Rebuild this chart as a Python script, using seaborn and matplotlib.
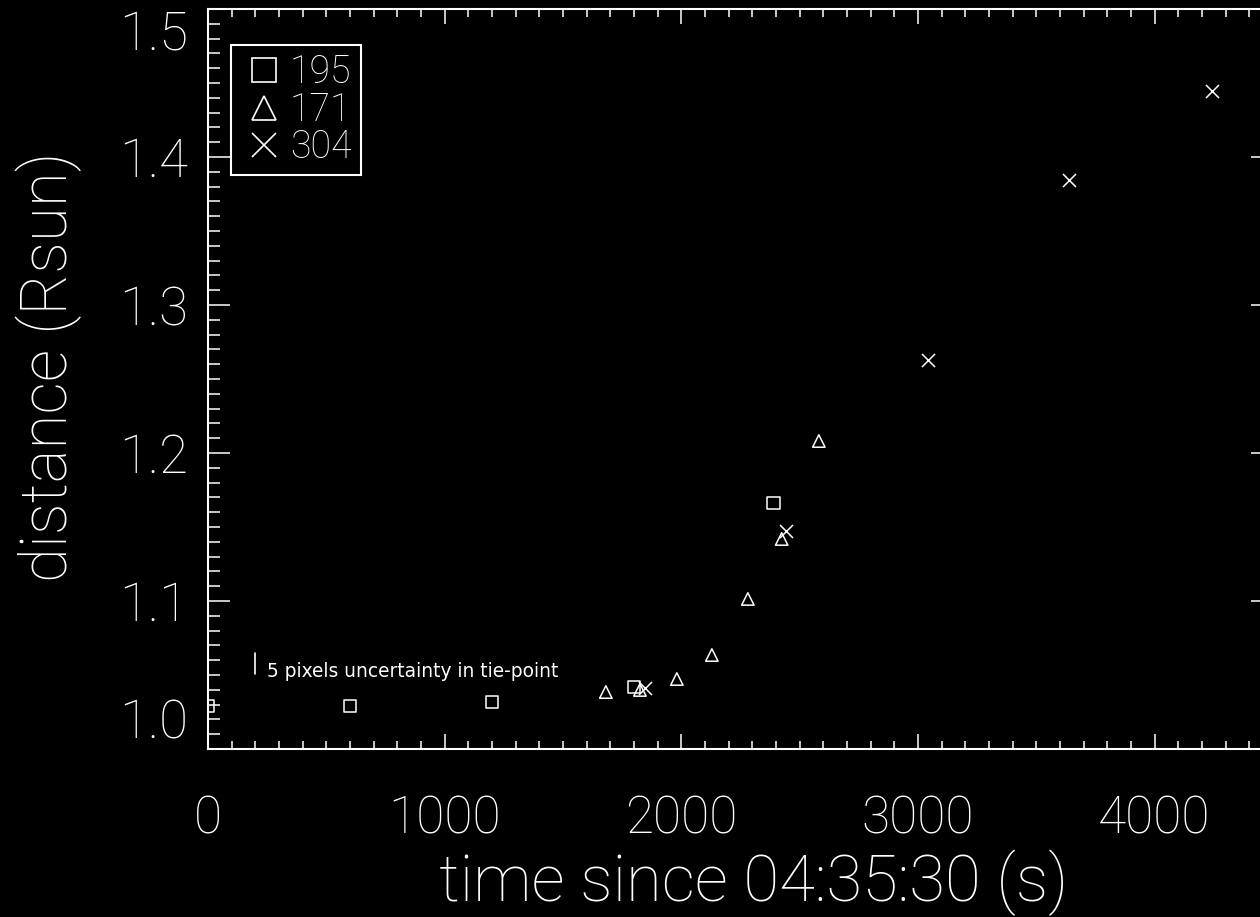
import matplotlib
matplotlib.use('Agg')
import seaborn           as sns
import matplotlib.pyplot as plt
from matplotlib.lines  import Line2D
from matplotlib.ticker import MultipleLocator, FixedLocator


# Distance of the feature (Rsun) against time since 04:35:30 (s), one list per channel
t195 = [0, 600, 1200, 1800, 2390]
d195 = [1.0291, 1.0290, 1.0318, 1.0419, 1.1662]

t171 = [1681, 1825, 1981, 2129, 2281, 2424, 2581]
d171 = [1.0385, 1.0399, 1.0473, 1.0635, 1.1014, 1.1419, 1.2081]

t304 = [1846, 2441, 3041, 3637, 4241]
d304 = [1.0412, 1.1473, 1.2628, 1.3845, 1.4446]

channels      = ['195', '171', '304']
chan_markers  = {'195': 's', '171': '^', '304': 'x'}
chan_data     = {'195': (t195, d195), '171': (t171, d171), '304': (t304, d304)}

y_ticks = [1.0, 1.1, 1.2, 1.3, 1.4, 1.5]

# Size of the tie-point uncertainty (5 pixels) drawn as a bar
err_t    = 200
err_d    = [1.051, 1.065]
err_text = '5 pixels uncertainty in tie-point'

x_label = 'time since 04:35:30 (s)'
y_label = 'distance (Rsun)'


sns.set_theme(style='ticks')
plt.rcParams['font.family'] = ['Roboto', 'DejaVu Sans']
plt.rcParams['font.weight'] = 'light'

fig = plt.figure(figsize=(12.6, 9.17), dpi=100, facecolor='black')
ax  = fig.add_axes([0.1651, 0.1832, 0.8452, 0.807])
ax.set_facecolor('black')

# One scatter per channel, open markers like the IDL psym symbols
for chan in channels:
  t, d = chan_data[chan]
  m = chan_markers[chan]
  if m == 'x':
    sns.scatterplot(x=t, y=d, marker=m, s=88, color='white', linewidth=1.1, legend=False, ax=ax)
  else:
    sns.scatterplot(x=t, y=d, marker=m, s=80, color='white', facecolors='none',
                    edgecolor='white', linewidth=1.1, legend=False, ax=ax)

# Uncertainty bar + its note
ax.plot([err_t, err_t], err_d, color='white', lw=1.2)
ax.text(err_t + 50, err_d[0] - 0.0025, err_text, color='white', fontsize=13.4,
        family='DejaVu Sans', fontweight='normal', va='baseline', ha='left')

ax.set_xlim(0, 4500)
ax.set_ylim(1.0, 1.5)
ax.xaxis.set_major_locator(MultipleLocator(1000))
ax.xaxis.set_minor_locator(MultipleLocator(100))
ax.yaxis.set_major_locator(FixedLocator(y_ticks))
ax.yaxis.set_minor_locator(MultipleLocator(0.01))
ax.yaxis.set_major_formatter(lambda v, pos: f'{v:.1f}')

ax.tick_params(axis='both', which='both', direction='in', colors='white',
               top=True, right=True, width=1.1)
ax.tick_params(axis='x', which='major', length=10.8, labelsize=37, pad=33)
ax.tick_params(axis='x', which='minor', length=5.6)
ax.tick_params(axis='y', which='major', length=15.8, labelsize=38, pad=14)
ax.tick_params(axis='y', which='minor', length=8.4)
for sp in ax.spines.values():
  sp.set_color('white')
  sp.set_linewidth(1.5)

# IDL keeps the end labels inside the box height
ylabs = ax.yaxis.get_major_ticks()
ylabs[0].label1.set_va('bottom')
ylabs[-1].label1.set_va('top')

ax.set_xlabel(x_label, fontsize=47, color='white', fontweight='light')
ax.set_ylabel(y_label, fontsize=46, color='white', fontweight='light')
ax.xaxis.set_label_coords(0.512, -0.181)
ax.xaxis.label.set_va('center')
ax.yaxis.set_label_coords(-0.150, 0.516)
ax.yaxis.label.set_va('center')

handles = [Line2D([], [], marker=chan_markers[c], ls='none', mfc='none', mec='white',
                  ms=17, mew=1.2) for c in channels]
leg = ax.legend(handles, channels, loc='upper left', bbox_to_anchor=(0.0216, 0.9514),
                borderaxespad=0, fontsize=27, labelcolor='white', frameon=True,
                fancybox=False, framealpha=1, facecolor='black', edgecolor='white',
                borderpad=0.24, labelspacing=0.0, handlelength=1.28, handletextpad=0.05)
leg.get_frame().set_linewidth(1.5)

plt.savefig('out.png', dpi=100, facecolor='black')
plt.close()
